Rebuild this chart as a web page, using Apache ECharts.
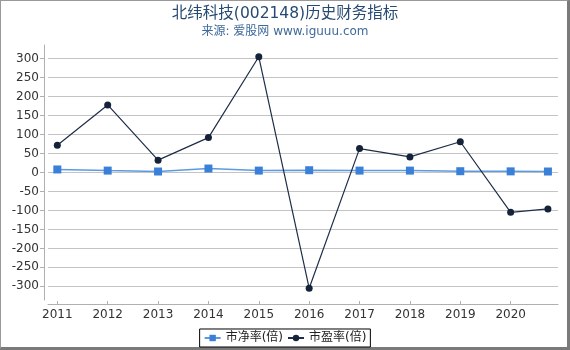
<!DOCTYPE html>
<html><head><meta charset="utf-8">
<script src="https://cdn.jsdelivr.net/npm/echarts@6/dist/echarts.min.js"></script>
<style>
html,body{margin:0;padding:0;background:#fff;}
#frame{position:absolute;left:0;top:0;width:566px;height:346px;border-left:1px solid #999;border-top:1px solid #999;border-right:3px solid #7a7a7a;border-bottom:3px solid #7a7a7a;}
#c{position:absolute;left:0;top:0;width:570px;height:350px;}
</style></head>
<body>
<div id="frame"></div>
<div id="c"></div>
<script>
var years = [2011, 2012, 2013, 2014, 2015, 2016, 2017, 2018, 2019, 2020, 2020.74];
var pb = [8, 5, 2.6, 10.5, 5, 6, 5, 5, 3.4, 3, 2.6];
var pe = [72, 178, 32.5, 92, 305, -305, 63, 41, 81, -105, -96];
var xTicks = [2011, 2012, 2013, 2014, 2015, 2016, 2017, 2018, 2019, 2020];
var yTicks = [-300, -250, -200, -150, -100, -50, 0, 50, 100, 150, 200, 250, 300];
var seriesNames = ['市净率(倍)', '市盈率(倍)'];

function pairs(xs, ys){ return xs.map(function(x,i){ return [x, ys[i]]; }); }

var chart = echarts.init(document.getElementById('c'), null, {renderer:'canvas'});
var font = 'DejaVu Sans, Noto Sans CJK SC, sans-serif';
chart.setOption({
  animation: false,
  backgroundColor: 'transparent',
  title: {
    text: '北纬科技(002148)历史财务指标',
    subtext: '来源: 爱股网 www.iguuu.com',
    left: 'center', top: 1, itemGap: 4,
    textStyle: {fontFamily: font, fontSize: 15.5, fontWeight: 'normal', color: '#274a73'},
    subtextStyle: {fontFamily: font, fontSize: 12, color: '#3f6a9a'}
  },
  legend: {
    bottom: 3, left: 'center',
    borderColor: '#000', borderWidth: 1, padding: [3, 4], itemGap: 4,
    itemWidth: 16, itemHeight: 8,
    textStyle: {fontFamily: font, fontSize: 12, color: '#222'},
    data: seriesNames
  },
  grid: {left: 48, right: 12, top: 45, bottom: 50, containLabel: false},
  xAxis: {
    type: 'value', min: 2010.815, max: 2020.94, offset: 4,
    axisLine: {show: true, onZero: false, lineStyle: {color: '#b0b0b0'}},
    axisTick: {show: true, inside: true, length: 3, lineStyle: {color: '#b0b0b0'}, customValues: xTicks},
    axisLabel: {customValues: xTicks, margin: 5, fontFamily: font, fontSize: 12, color: '#333', formatter: function(v){ return String(v); }},
    splitLine: {show: false}
  },
  yAxis: {
    type: 'value', min: -336, max: 336, offset: 4,
    axisLine: {show: true, lineStyle: {color: '#b0b0b0'}},
    axisTick: {show: true, length: 4, lineStyle: {color: '#b0b0b0'}, customValues: yTicks},
    axisLabel: {customValues: yTicks, margin: 5, fontFamily: font, fontSize: 12, color: '#333'},
    splitLine: {show: true, lineStyle: {color: '#c4c4c4'}}
  },
  series: [
    {name: seriesNames[0], type: 'line', data: pairs(years, pb), symbol: 'rect', symbolSize: 8,
     itemStyle: {color: '#3a80d8'}, lineStyle: {color: '#5d9be0', width: 1.5}},
    {name: seriesNames[1], type: 'line', data: pairs(years, pe), symbol: 'circle', symbolSize: 7,
     itemStyle: {color: '#14233a'}, lineStyle: {color: '#1e2e48', width: 1.2}}
  ]
});
</script>
</body></html>
